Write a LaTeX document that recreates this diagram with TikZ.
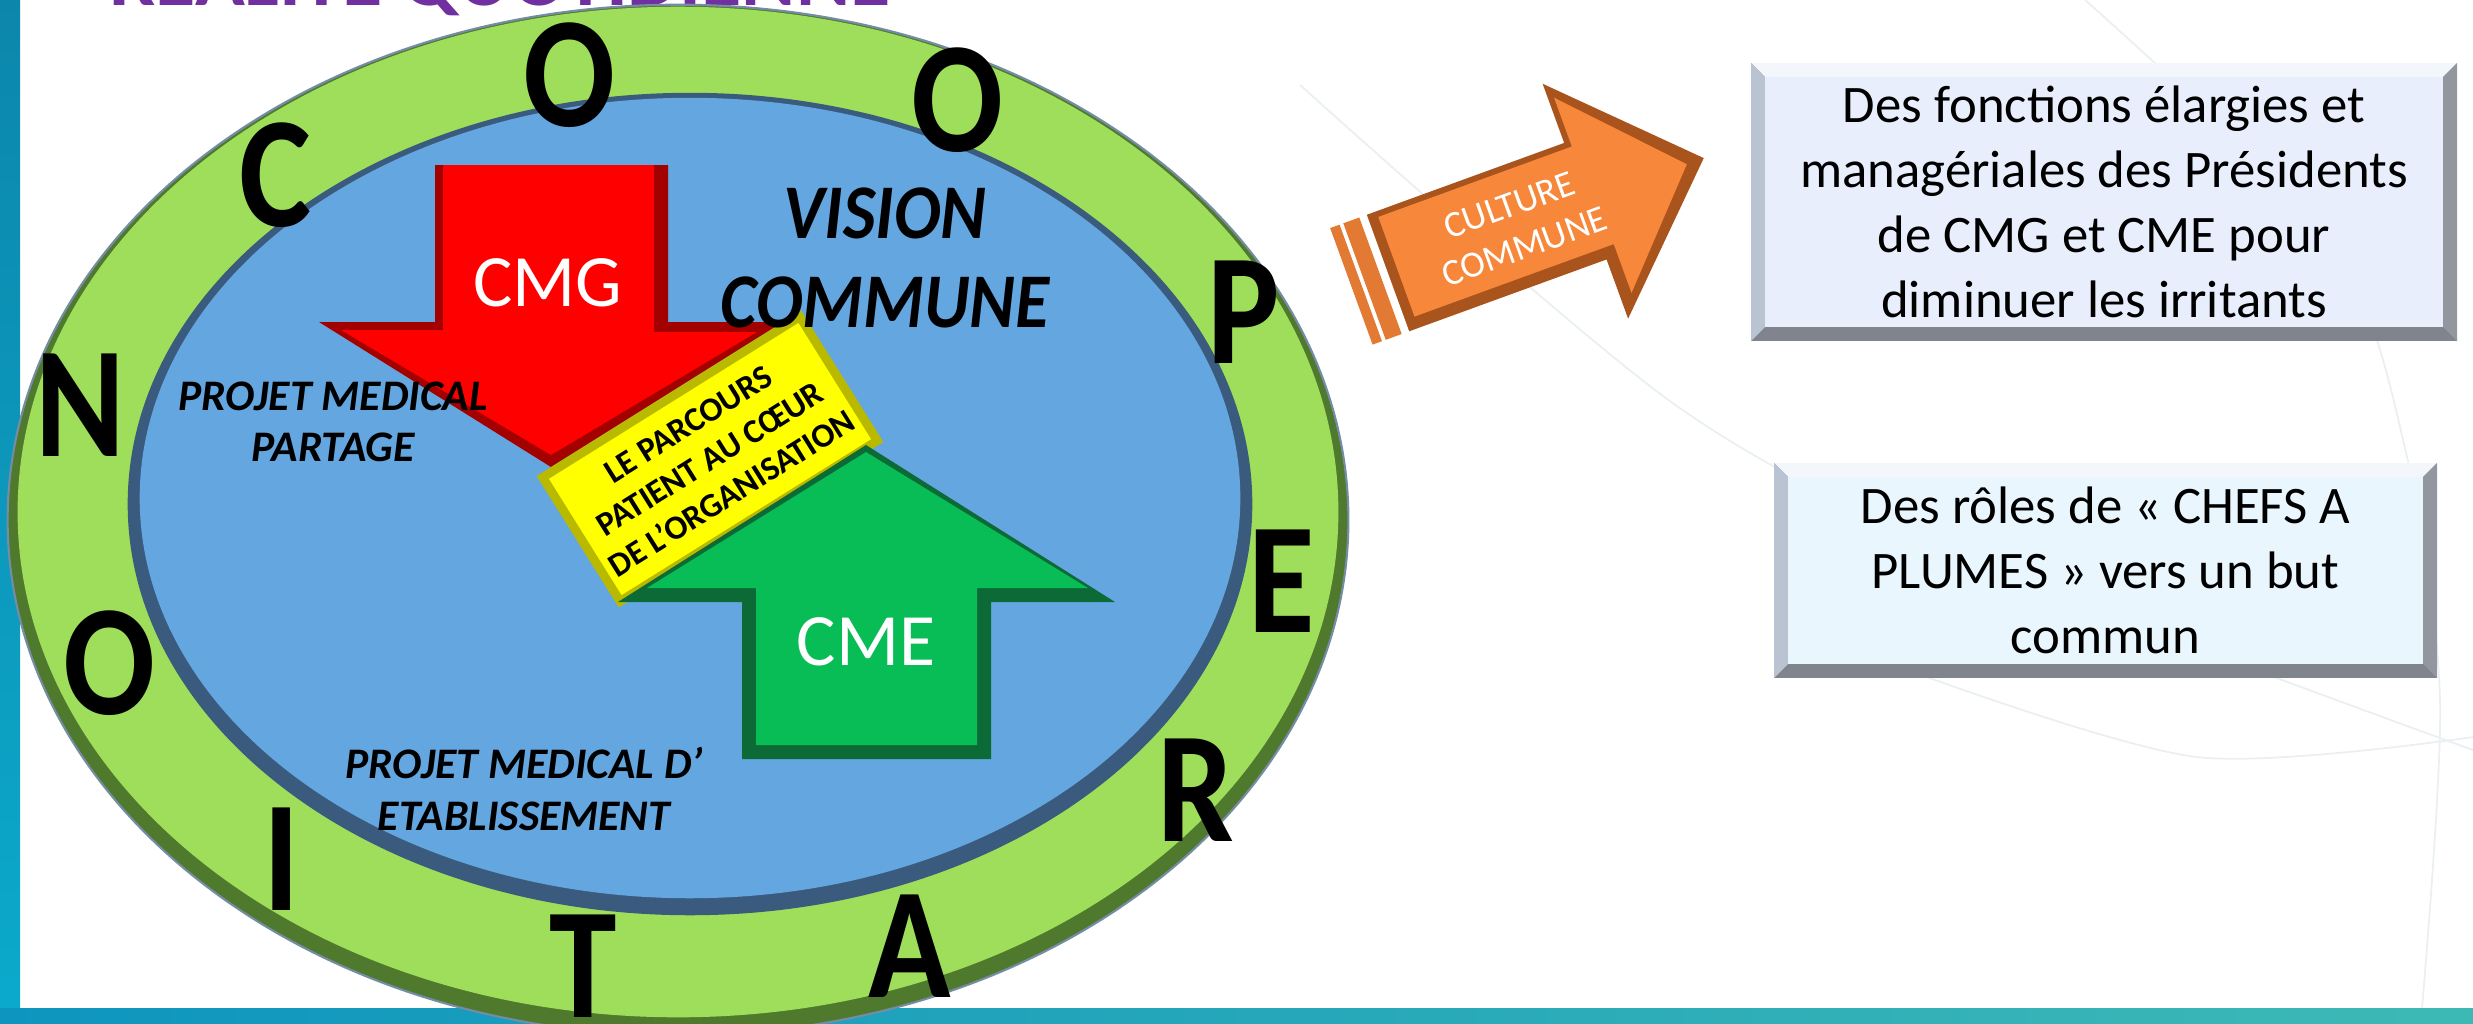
\documentclass[tikz,border=0pt]{standalone}
\usepackage{fontspec}
\setmainfont{Carlito}

\definecolor{coopgreen}{HTML}{9FDE5A}
\definecolor{coopgreendark}{HTML}{4F7A2E}
\definecolor{visionblue}{HTML}{64A6E0}
\definecolor{visionbluedark}{HTML}{3A5B7E}
\definecolor{cmgred}{HTML}{FF0000}
\definecolor{cmgreddark}{HTML}{A30000}
\definecolor{cmegreen}{HTML}{08BC56}
\definecolor{cmegreendark}{HTML}{0B6A36}
\definecolor{parcoursyellow}{HTML}{FFFF00}
\definecolor{parcoursdark}{HTML}{B9B900}
\definecolor{cultureorange}{HTML}{F7873A}
\definecolor{culturedark}{HTML}{A9531D}
\definecolor{titlepurple}{HTML}{7030A0}
\definecolor{frameteal}{HTML}{0E95BF}
\definecolor{frameaqua}{HTML}{3DB9B5}
\definecolor{faintline}{HTML}{EAF0F2}
\definecolor{boxone}{HTML}{E8EEFC}
\definecolor{boxtwo}{HTML}{E9F6FD}
\definecolor{bevellight}{HTML}{F3F6FB}
\definecolor{bevelleft}{HTML}{B9C3D1}
\definecolor{beveldark}{HTML}{7F848D}

\begin{document}
\begin{tikzpicture}[x=0.01cm, y=-0.01cm,
letter/.style={font=\fontsize{45}{45}\selectfont\bfseries, xscale=0.86},
zone/.style={font=\fontsize{12.4}{14.6}\selectfont\bfseries\itshape, align=center},
vision/.style={font=\fontsize{22}{25.5}\selectfont\bfseries\itshape, align=center, xscale=0.9},
arrowlabel/.style={text=white, font=\fontsize{21}{24}\selectfont},
parcours/.style={rotate=32, fill=parcoursyellow, draw=parcoursdark, line width=2.5pt,
  minimum width=3.03cm, minimum height=1.46cm, inner sep=1pt, align=center,
  font=\fontsize{9.6}{11.6}\selectfont\bfseries},
infotext/.style={font=\fontsize{15}{18.5}\selectfont, align=center, inner sep=0pt}]
	\useasboundingbox (0,0) rectangle (2473,1023);
	\clip (0,0) rectangle (2473,1023);
	\fill[white] (0,0) rectangle (2473,1023);
	% faint rings of the slide
	\draw[faintline, line width=0.5pt] plot[smooth] coordinates {(1300,85) (1674,404) (1973,561) (2473,750)};
	\draw[faintline, line width=0.5pt] plot[smooth] coordinates {(2085,0) (2330,240) (2407,457) (2440,700) (2422,1008)};
	\draw[faintline, line width=0.5pt] plot[smooth] coordinates {(1913,672) (2197,757) (2473,737)};
	% frame
	\shade[top color=frameteal!90!black, bottom color=frameteal!80!cyan] (0,0) rectangle (20,1023);
	\shade[left color=frameteal, right color=frameaqua] (0,1008) rectangle (2473,1023);
	\node[anchor=base, text=titlepurple, font=\fontsize{23.4}{24}\selectfont\bfseries] (title) at (500,5) {REALITE QUOTIDIENNE};

	% rings
	\filldraw[fill=coopgreendark, draw=visionbluedark!70, line width=0.6pt] (678,520) ellipse [x radius=6.70cm, y radius=5.15cm];
	\fill[coopgreen] (678,512) ellipse [x radius=6.60cm, y radius=5.05cm];
	\fill[visionbluedark] (690,504) ellipse [x radius=5.62cm, y radius=4.11cm];
	\fill[visionblue] (690,498) ellipse [x radius=5.50cm, y radius=4.00cm];

	% CMG arrow
	\fill[cmgreddark] (435,165) -- (668,165) -- (668,322) -- (783,322) -- (551,467) -- (319,322) -- (435,322) -- cycle;
	\fill[cmgred] (443,165) -- (654,165) -- (654,332) -- (757,332) -- (551,455) -- (341,330) -- (443,330) -- cycle;
	\node[arrowlabel] (cmg) at (548,283) {CMG};

	\node[parcours] (parcours) at (710,459) {LE PARCOURS\\PATIENT AU CŒUR\\DE L’ORGANISATION};

	% CME arrow
	\fill[cmegreendark] (742,759) -- (742,602) -- (618,602) -- (866,445) -- (1115,602) -- (991,602) -- (991,759) -- cycle;
	\fill[cmegreen] (756,745) -- (756,588) -- (647,588) -- (866,452) -- (1088,588) -- (977,588) -- (977,745) -- cycle;
	\node[arrowlabel] (cme) at (866,642) {CME};

	\node[vision] (vision) at (885,258) {VISION\\COMMUNE};
	\node[zone] (partage) at (333,422) {PROJET MEDICAL\\PARTAGE};
	\node[zone] (etablissement) at (524,789) {PROJET MEDICAL D’\\ETABLISSEMENT};

	\foreach \ch/\x/\y/\nm in {C/276/175/c, O/570/75/o1, O/958/100/o2, P/1244/312/p, E/1282/581/e,
		R/1196/790/r, A/910/946/a, T/583/966/t, I/282/859/i, O/110/663/o3, N/80/405/n}
		\node[letter] (\nm) at (\x,\y) {\ch};

	% culture arrow
	\begin{scope}[shift={(1388,273)}, rotate=20]
		\fill[cultureorange!75!culturedark] (-39,-62) rectangle (-29,62);
		\fill[cultureorange!75!culturedark] (-25,-62) rectangle (-8,62);
		\fill[culturedark] (0,-62) -- (210,-62) -- (210,-125) -- (336,0) -- (210,125) -- (210,62) -- (0,62) -- cycle;
		\fill[cultureorange] (10,-56) -- (216,-56) -- (216,-108) -- (318,0) -- (222,102) -- (222,50) -- (10,50) -- cycle;
		\node[rotate=20, text=white, align=center, font=\fontsize{10.5}{12.6}\selectfont] (culture) at (137,0) {CULTURE\\COMMUNE};
	\end{scope}

	% boxes
	\foreach \xa/\ya/\xb/\yb in {1751/63/2457/341, 1774/463/2437/678} {
		\fill[beveldark] (\xa,\ya) rectangle (\xb,\yb);
		\fill[bevellight] (\xa,\ya) -- (\xb,\ya) -- (\xb-14,\ya+14) -- (\xa+14,\ya+14) -- cycle;
		\fill[bevelleft] (\xa,\ya) -- (\xa+14,\ya+14) -- (\xa+14,\yb-14) -- (\xa,\yb) -- cycle;
		\fill[beveldark!85!white] (\xb,\ya) -- (\xb,\yb) -- (\xb-14,\yb-14) -- (\xb-14,\ya+14) -- cycle;
	}
	\node[infotext, fill=boxone, minimum width=6.78cm, minimum height=2.50cm] (fonctions) at (2104,202)
		{Des fonctions élargies et\\managériales des Présidents\\de CMG et CME pour\\diminuer les irritants};
	\node[infotext, fill=boxtwo, minimum width=6.35cm, minimum height=1.87cm] (roles) at (2105.5,570.5)
		{Des rôles de «~CHEFS A\\PLUMES~» vers un but\\commun};
\end{tikzpicture}
\end{document}
